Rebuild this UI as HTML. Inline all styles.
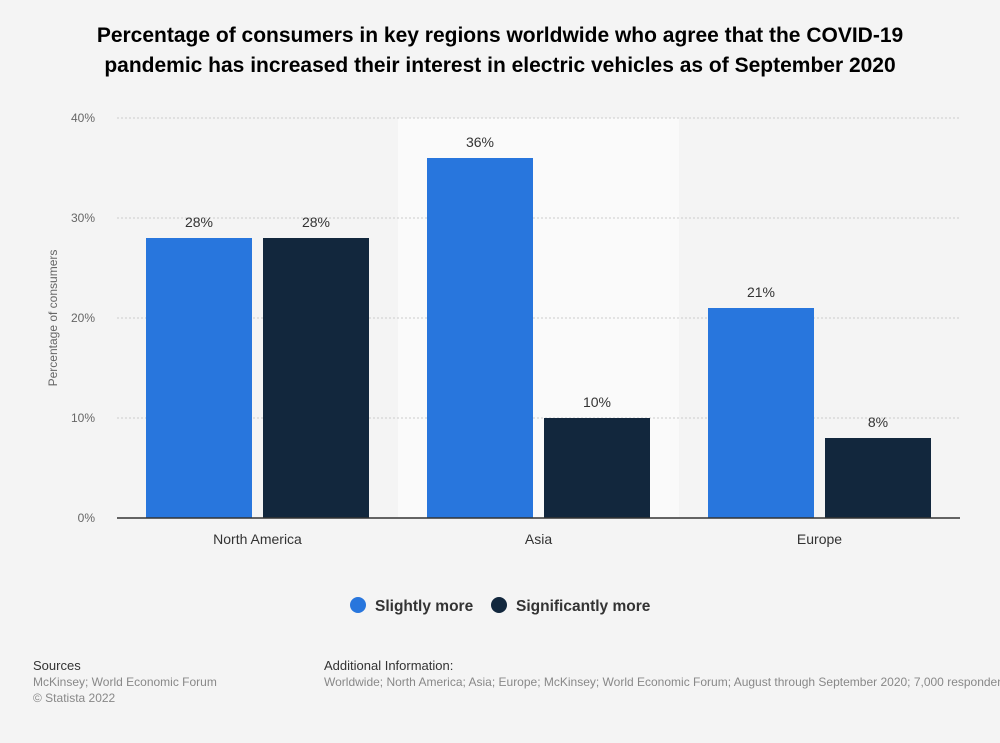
<!DOCTYPE html>
<html><head><meta charset="utf-8"><style>
body{margin:0;width:1000px;height:743px;background:#f4f4f4;font-family:"Liberation Sans",sans-serif;overflow:hidden;position:relative}
.t{position:absolute;left:0;width:1000px;top:21px;text-align:center;font-weight:bold;font-size:21px;line-height:30px;color:#000}
.f{position:absolute;font-size:12px;line-height:16px;color:#888;white-space:nowrap}
.f b{font-weight:normal;color:#333;font-size:13px}
</style></head><body>
<div class="t">Percentage of consumers in key regions worldwide who agree that the COVID-19<br>pandemic has increased their interest in electric vehicles as of September 2020</div>
<svg id="c" width="1000" height="640" style="position:absolute;left:0;top:0"></svg>
<div class="f" style="left:33px;top:658px"><b>Sources</b><br>McKinsey; World Economic Forum<br>© Statista 2022</div>
<div class="f" style="left:324px;top:658px"><b>Additional Information:</b><br>Worldwide; North America; Asia; Europe; McKinsey; World Economic Forum; August through September 2020; 7,000 respondents</div>
<script>
const categories=["North America","Asia","Europe"];
const slightly=[28,36,21];
const significantly=[28,10,8];
const yTicks=[0,10,20,30,40];
const svg=document.getElementById('c');const NS='http://www.w3.org/2000/svg';
function mk(t,a,p){const e=document.createElementNS(NS,t);for(const k in a)e.setAttribute(k,a[k]);(p||svg).appendChild(e);return e;}
const x0=117,x1=960,yb=518,yt=118,ymax=40;
const y=v=>yb-(yb-yt)*v/ymax;
const gw=(x1-x0)/categories.length;
const bw=106,gap=11,pad=(gw-2*bw-gap)/2;
let hb=mk('rect',{x:x0+gw,y:yt,width:gw,height:yb-yt,fill:'#fafafa'});


yTicks.forEach(v=>{
 if(v>0){let l=mk('line',{x1:x0,x2:x1,y1:y(v),y2:y(v),stroke:'#ccc','stroke-dasharray':'2,2'});
 }
 let t=mk('text',{x:95,y:y(v)+4,'text-anchor':'end','font-size':12,fill:'#666'});t.textContent=v+'%';
 
});
let yl=mk('text',{transform:'translate(57,318) rotate(-90)','text-anchor':'middle','font-size':12,fill:'#666'});yl.textContent='Percentage of consumers';

categories.forEach((c,i)=>{
 const gx=x0+gw*i;
 [[slightly,'#2876dd',0],[significantly,'#12273d',1]].forEach(([arr,col,k])=>{
  const bx=gx+pad+k*(bw+gap);
  let r=mk('rect',{x:bx,y:y(arr[i]),width:bw,height:yb-y(arr[i]),fill:col});
  
  let t=mk('text',{x:bx+bw/2,y:y(arr[i])-11,'text-anchor':'middle','font-size':14,fill:'#333'});t.textContent=arr[i]+'%';
  
 });
 let t=mk('text',{x:gx+gw/2,y:544,'text-anchor':'middle','font-size':14,fill:'#333'});t.textContent=c;
 
});
let ax=mk('line',{x1:x0,x2:x1,y1:yb,y2:yb,stroke:'#333','stroke-width':1.5});

[['Slightly more','#2876dd',358],['Significantly more','#12273d',499]].forEach(([n,col,cx])=>{
 const g=mk('g',{});
 mk('circle',{cx:cx,cy:605,r:8,fill:col},g);
 const t=mk('text',{x:cx+17,y:611,'font-size':15.5,'font-weight':'bold',fill:'#333'},g);t.textContent=n;
});
</script>
</body></html>
